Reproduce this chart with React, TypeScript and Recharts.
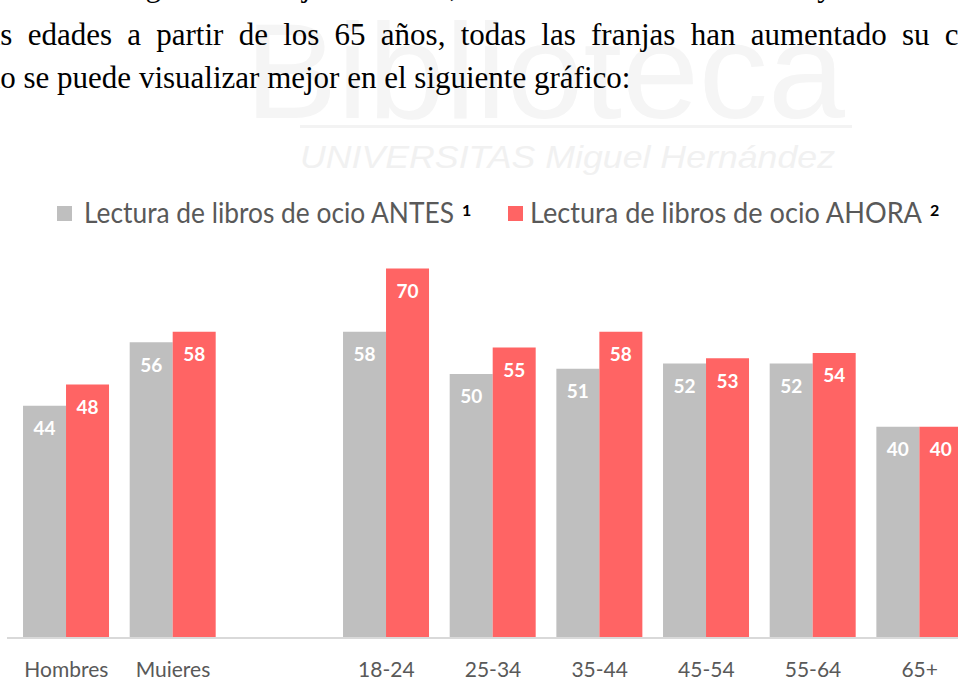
import React from "react";
import { BarChart, Bar, XAxis, YAxis, LabelList } from "recharts";

const categories = ["Hombres", "Mujeres", "", "18-24", "25-34", "35-44", "45-54", "55-64", "65+"];
const antesValues = [44, 56, null, 58, 50, 51, 52, 52, 40];
const ahoraValues = [48, 58, null, 70, 55, 58, 53, 54, 40];
const seriesNames = ["Lectura de libros de ocio ANTES", "Lectura de libros de ocio AHORA"];
const seriesNotes = ["1", "2"];
const seriesColors = ["#BFBFBF", "#FF6464"];

const paragraphLines = [
  "al contrario según las franjas de edad, han sufrido unos datos muy beneficiosos",
  "las edades a partir de los 65 años, todas las franjas han aumentado su consumo",
  "Como se puede visualizar mejor en el siguiente gráfico:",
];

const data = categories.map((name, i) => ({
  name,
  antes: antesValues[i],
  ahora: ahoraValues[i],
}));

const serif = "'Liberation Serif', 'Times New Roman', serif";
const sans = "Lato, 'Open Sans', sans-serif";

function Watermark() {
  return (
    <svg width={958} height={200} style={{ position: "absolute", left: 0, top: 0 }}>
      <text x={245} y={118} fontFamily="'Liberation Sans', Arial, sans-serif" fontSize={135} fill="#f5f5f5" textLength={600} lengthAdjust="spacingAndGlyphs">
        Biblioteca
      </text>
      <rect x={300} y={125} width={552} height={3} fill="#f3f3f3" />
      <text x={300} y={168} fontFamily="'Liberation Sans', Arial, sans-serif" fontSize={32} fontStyle="italic" fill="#f1f1f1" textLength={535} lengthAdjust="spacingAndGlyphs">
        UNIVERSITAS Miguel Hernández
      </text>
    </svg>
  );
}

function Paragraph() {
  const base: React.CSSProperties = {
    position: "absolute",
    fontFamily: serif,
    fontSize: 31,
    lineHeight: "43px",
    color: "#000",
    whiteSpace: "nowrap",
  };
  return (
    <>
      <div style={{ ...base, top: -36, left: -40, wordSpacing: "5px" }}>{paragraphLines[0]}</div>
      <div style={{ ...base, top: 13, left: -22, wordSpacing: "7.5px" }}>{paragraphLines[1]}</div>
      <div style={{ ...base, top: 56, left: -60 }}>{paragraphLines[2]}</div>
    </>
  );
}

function ChartLegend() {
  const items = [
    { sx: 57, tx: 84, len: 370, nx: 462 },
    { sx: 508, tx: 530, len: 392, nx: 930 },
  ];
  return (
    <svg width={958} height={40} style={{ position: "absolute", left: 0, top: 195 }}>
      {items.map((it, i) => (
        <g key={i}>
          <rect x={it.sx} y={11} width={15} height={15} fill={seriesColors[i]} />
          <text x={it.tx} y={28} fontFamily={sans} fontSize={28} fill="#595959" textLength={it.len} lengthAdjust="spacingAndGlyphs">
            {seriesNames[i]}
          </text>
          <text x={it.nx} y={21} fontFamily={sans} fontSize={16} fontWeight="bold" fill="#000">
            {seriesNotes[i]}
          </text>
        </g>
      ))}
    </svg>
  );
}

export default function App() {
  return (
    <div style={{ position: "absolute", left: 0, top: 0, width: 958, height: 677, overflow: "hidden", background: "#fff" }}>
      <Watermark />
      <Paragraph />
      <ChartLegend />
      <div style={{ position: "absolute", left: 0, top: 0 }}>
        <BarChart
          width={1000}
          height={677}
          data={data}
          margin={{ top: 242, right: 27, left: 7, bottom: 0 }}
          barCategoryGap="9.4%"
          barGap={0}
        >
          <XAxis
            dataKey="name"
            axisLine={{ stroke: "#d9d9d9", strokeWidth: 2 }}
            tickLine={false}
            tickSize={0}
            tickMargin={24}
            height={39}
            interval={0}
            padding={{ left: 6, right: 0 }}
            tick={{ fill: "#595959", fontSize: 21, fontFamily: sans }}
          />
          <YAxis hide domain={[0, 75]} />
          <Bar dataKey="antes" fill={seriesColors[0]} isAnimationActive={false}>
            <LabelList dataKey="antes" position="insideTop" offset={16} fill="#ffffff" fontSize={19} fontWeight="bold" fontFamily={sans} />
          </Bar>
          <Bar dataKey="ahora" fill={seriesColors[1]} isAnimationActive={false}>
            <LabelList dataKey="ahora" position="insideTop" offset={16} fill="#ffffff" fontSize={19} fontWeight="bold" fontFamily={sans} />
          </Bar>
        </BarChart>
      </div>
    </div>
  );
}
